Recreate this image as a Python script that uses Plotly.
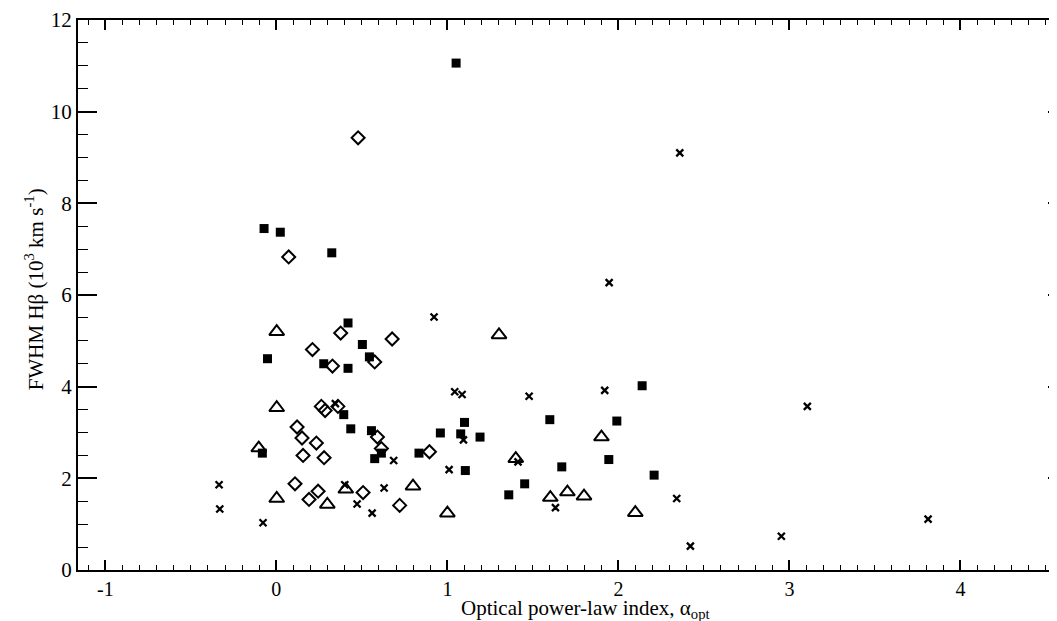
import plotly.graph_objects as go

# filled squares
sq_x = [-0.072, 0.023, 0.324, 1.051, -0.052, 0.419, 0.503, 0.277, 0.419, 0.544,
        0.394, 0.435, -0.082, 0.556, 0.575, 0.614, 0.834, 0.959, 1.078, 1.100,
        1.191, 1.105, 1.599, 1.991, 2.139, 1.944, 1.669, 2.209, 1.452, 1.359]
sq_y = [7.45, 7.37, 6.92, 11.06, 4.61, 5.39, 4.92, 4.50, 4.40, 4.65,
        3.39, 3.08, 2.55, 3.04, 2.43, 2.55, 2.55, 2.99, 2.97, 3.22,
        2.90, 2.17, 3.28, 3.25, 4.02, 2.41, 2.25, 2.07, 1.88, 1.64]

# open diamonds
dm_x = [0.072, 0.478, 0.211, 0.376, 0.677, 0.328, 0.575, 0.263, 0.285, 0.360,
        0.121, 0.150, 0.234, 0.156, 0.279, 0.591, 0.614, 0.895, 0.109, 0.191,
        0.244, 0.507, 0.721]
dm_y = [6.83, 9.43, 4.81, 5.17, 5.04, 4.45, 4.54, 3.57, 3.48, 3.57,
        3.12, 2.88, 2.77, 2.50, 2.45, 2.90, 2.65, 2.58, 1.88, 1.54,
        1.72, 1.69, 1.41]

# open triangles
tr_x = [0.002, 0.002, -0.103, 0.002, 0.298, 0.406, 0.799, 1.000, 1.302, 1.400,
        1.901, 1.602, 1.702, 1.799, 2.099]
tr_y = [5.20, 3.54, 2.66, 1.56, 1.43, 1.76, 1.83, 1.24, 5.13, 2.43,
        2.90, 1.58, 1.70, 1.61, 1.25]

# crosses
cx_x = [0.922, 2.359, 1.946, 3.105, 2.953, 3.811, 1.043, 1.086, 1.478, 1.920,
        1.094, 0.686, 1.413, 1.010, 1.632, 2.341, 2.421, -0.335, -0.331, -0.078,
        0.400, 0.472, 0.560, 0.630, 0.345]
cx_y = [5.52, 9.10, 6.27, 3.57, 0.735, 1.11, 3.89, 3.83, 3.79, 3.92,
        2.84, 2.39, 2.36, 2.19, 1.36, 1.56, 0.52, 1.86, 1.33, 1.03,
        1.86, 1.44, 1.24, 1.79, 3.63]

x_ticks = [-1, 0, 1, 2, 3, 4]
x_ticktext = ["-1", "0", "1", "2", "3", "4"]
y_ticks = [0, 2, 4, 6, 8, 10, 12]

X_RANGE = [-1.16, 4.6]
Y_RANGE = [0, 12]
FONT = "Liberation Serif, Times New Roman, serif"

fig = go.Figure()
fig.add_trace(go.Scatter(x=sq_x, y=sq_y, mode="markers",
                         marker=dict(symbol="square", size=9, color="black", line=dict(width=0))))
fig.add_trace(go.Scatter(x=dm_x, y=dm_y, mode="markers",
                         marker=dict(symbol="diamond-open", size=10, color="black", line=dict(width=2))))
fig.add_trace(go.Scatter(x=tr_x, y=tr_y, mode="markers",
                         marker=dict(symbol="triangle-up-open", size=13, color="black", line=dict(width=2))))
fig.add_trace(go.Scatter(x=cx_x, y=cx_y, mode="markers",
                         marker=dict(symbol="x-thin-open", size=7, color="black", line=dict(width=2.3))))

tick_common = dict(ticks="inside", tickcolor="black", tickwidth=1.5,
                   showgrid=False, zeroline=False, automargin=False)

fig.update_layout(
    width=1057, height=621,
    margin=dict(l=70, r=2, t=12, b=59),
    paper_bgcolor="white", plot_bgcolor="white",
    showlegend=False,
    font=dict(family=FONT, size=21, color="black"),
    xaxis=dict(range=X_RANGE, tickvals=x_ticks, ticktext=x_ticktext, ticklen=10,
               minor=dict(dtick=0.1, tick0=0, ticks="inside", ticklen=5, tickwidth=1.2, tickcolor="black"),
               showline=True, linecolor="black", linewidth=2, mirror=True,
               tickfont=dict(size=20), **tick_common),
    yaxis=dict(range=Y_RANGE, tickvals=y_ticks, ticklen=19,
               minor=dict(dtick=0.5, tick0=0, ticks="inside", ticklen=10, tickwidth=1.2, tickcolor="black"),
               showline=True, linecolor="black", linewidth=2, mirror=True,
               tickfont=dict(size=21), **tick_common),
    # top and right axes carry the mirrored major and minor ticks
    xaxis2=dict(range=X_RANGE, overlaying="x", side="top", anchor="y", tickvals=x_ticks,
                ticklen=10, showticklabels=False,
                minor=dict(dtick=0.1, tick0=0, ticks="inside", ticklen=5, tickwidth=1.2, tickcolor="black"),
                **tick_common),
    yaxis2=dict(range=Y_RANGE, overlaying="y", side="right", anchor="x", tickvals=y_ticks,
                ticklen=15, showticklabels=False,
                minor=dict(dtick=0.5, tick0=0, ticks="inside", ticklen=7, tickwidth=1.2, tickcolor="black"),
                **tick_common),
    annotations=[
        dict(text="Optical power-law index, α<sub>opt</sub>", xref="paper", yref="paper",
             x=0.515, y=-0.07, xanchor="center", yanchor="middle", showarrow=False,
             font=dict(size=21)),
        dict(text="FWHM Hβ (10<sup>3</sup> km s<sup>-1</sup>)", xref="paper", yref="paper",
             x=-0.044, y=0.51, xanchor="center", yanchor="middle", textangle=-90,
             showarrow=False, font=dict(size=21)),
    ],
)
# invisible trace so the top/right overlay axes get drawn
fig.add_trace(go.Scatter(x=[None], y=[None], xaxis="x2", yaxis="y2", mode="markers",
                         hoverinfo="skip", showlegend=False))

fig.write_html("out.html")
